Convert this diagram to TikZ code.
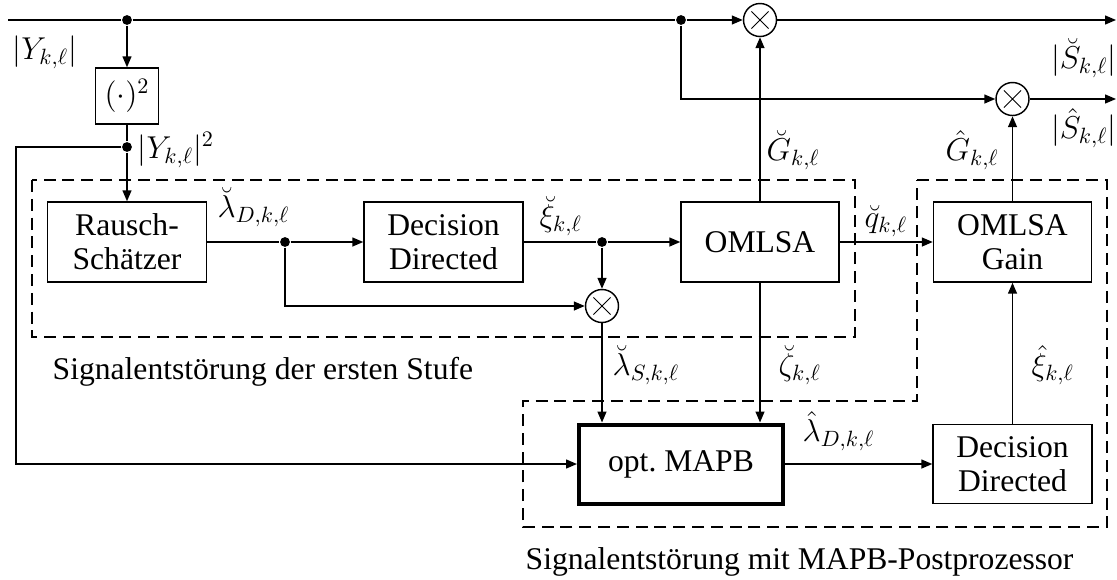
\RequirePackage{fix-cm}
\documentclass[tikz,border=0pt]{standalone}
\usepackage{fontspec}
\setmainfont{Liberation Serif}
\usetikzlibrary{arrows.meta}

\newcommand\figfont{\fontsize{15.8}{17}\selectfont}

\begin{document}
\begin{tikzpicture}[x=0.5pt,y=-0.5pt,
  every node/.append style={font=\figfont},
  line width=0.72pt,
  arr/.style={-{Triangle[length=5.4pt,width=4.4pt]}},
  blk/.style={draw, rectangle, align=center, inner sep=2pt},
  thickblk/.style={blk, line width=2pt},
  dot/.style={circle, fill, inner sep=0pt, minimum size=4.9pt},
  mult/.style={circle, draw, inner sep=0pt, minimum size=16.5pt,
    path picture={
      \draw[line width=0.5pt]
        ([shift={(-4.3pt,-4.3pt)}]path picture bounding box.center) --
        ([shift={(4.3pt,4.3pt)}]path picture bounding box.center)
        ([shift={(-4.3pt,4.3pt)}]path picture bounding box.center) --
        ([shift={(4.3pt,-4.3pt)}]path picture bounding box.center);}},
  dashbox/.style={dash pattern=on 6pt off 3.4pt, line width=0.72pt},
  lbl/.style={inner sep=0pt, anchor=west}
]
\useasboundingbox (0,0) rectangle (1117,579);

% stage outlines
\draw[dashbox] (32,180) rectangle (855,337);
\draw[dashbox] (917,180) -- (1107,180) -- (1107,527) -- (523,527)
  -- (523,401) -- (917,401) -- cycle;

% blocks
\node[blk, minimum width=31.5pt, minimum height=28pt] (sq) at (127,96) {$(\cdot)^2$};
\node[blk, minimum width=79.5pt, minimum height=40pt] (rs) at (127,242) {Rausch-\\Schätzer};
\node[blk, minimum width=79.5pt, minimum height=40pt] (dd1) at (443.5,242) {Decision\\Directed};
\node[blk, minimum width=79pt, minimum height=40pt] (om) at (760,242) {OMLSA};
\node[blk, minimum width=79pt, minimum height=40pt] (gain) at (1012.5,242) {OMLSA\\Gain};
\node[thickblk, minimum width=102pt, minimum height=39.5pt] (mapb) at (681,464) {opt.\ MAPB};
\node[blk, minimum width=79.5pt, minimum height=39.5pt] (dd2) at (1012.5,464) {Decision\\Directed};

% multipliers and branch points
\node[mult] (m1) at (760,20) {};
\node[mult] (m2) at (1012.5,99) {};
\node[mult] (m3) at (602,306) {};
\node[dot] (d1) at (127,20) {};
\node[dot] (d2) at (681,20) {};
\node[dot] (d3) at (127,147) {};
\node[dot] (d4) at (285,242) {};
\node[dot] (d5) at (602,242) {};
\coordinate (in) at (8,20);
\coordinate (o1) at (1116,20);
\coordinate (o2) at (1116,99);
\coordinate (lc) at (16,464);

% signal paths
\draw (in) -- (d1) -- (d2);
\draw[arr] (d2) -- (m1);
\draw[arr] (m1) -- (o1);
\draw[arr] (d2) |- (m2);
\draw[arr] (m2) -- (o2);
\draw[arr] (d1) -- (sq);
\draw (sq) -- (d3);
\draw[arr] (d3) -- (rs);
\draw[arr] (d3) -| (lc) -- (mapb);
\draw (rs) -- (d4);
\draw[arr] (d4) -- (dd1);
\draw (dd1) -- (d5);
\draw[arr] (d5) -- (om);
\draw[arr] (d5) -- (m3);
\draw[arr] (d4) |- (m3);
\draw[arr] (m3) -- (m3 |- mapb.north);
\draw[arr] (om) -- (m1);
\draw[arr] (om) -- (om |- mapb.north);
\draw[arr] (om) -- (gain);
\draw[arr] (gain) -- (m2);
\draw[arr] (dd2) -- (gain);
\draw[arr] (mapb) -- (dd2);

% signal labels
\node[lbl] (lY) at (12,52) {$|Y_{k,\ell}|$};
\node[lbl] (lY2) at (137,150) {$|Y_{k,\ell}|^2$};
\node[lbl, anchor=east] (lS1) at (1117,58) {$|\breve{S}_{k,\ell}|$};
\node[lbl, anchor=east] (lS2) at (1117,128) {$|\hat{S}_{k,\ell}|$};
\node[lbl] (lLD) at (217,207) {$\breve{\lambda}_{D,k,\ell}$};
\node[lbl] (lXi) at (539,216) {$\breve{\xi}_{k,\ell}$};
\node[lbl] (lq) at (864,221) {$\breve{q}_{k,\ell}$};
\node[lbl] (lG1) at (766,150) {$\breve{G}_{k,\ell}$};
\node[lbl] (lG2) at (945,150) {$\hat{G}_{k,\ell}$};
\node[lbl] (lLS) at (612,365) {$\breve{\lambda}_{S,k,\ell}$};
\node[lbl] (lZ) at (778,365) {$\breve{\zeta}_{k,\ell}$};
\node[lbl] (lXh) at (1031,365) {$\hat{\xi}_{k,\ell}$};
\node[lbl] (lLDh) at (802,431) {$\hat{\lambda}_{D,k,\ell}$};

% stage captions
\node[lbl, anchor=base west] (cap1) at (52,379) {Signalentstörung der ersten Stufe};
\node[lbl, anchor=base west] (cap2) at (525,569) {Signalentstörung mit MAPB-Postprozessor};
\end{tikzpicture}
\end{document}
